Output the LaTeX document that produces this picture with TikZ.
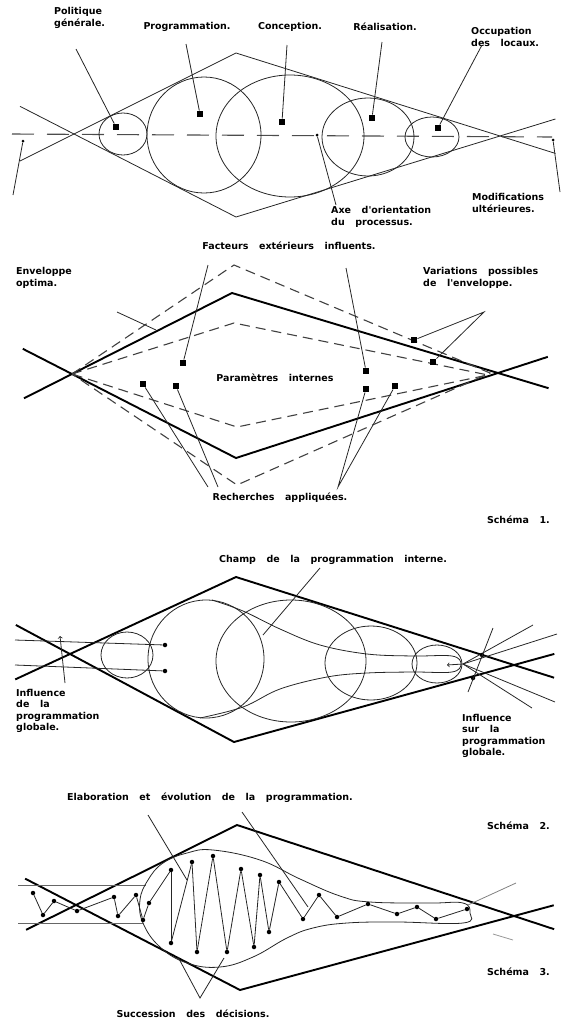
\documentclass[tikz,border=0pt]{standalone}
\usepackage{fontspec}
\newfontfamily\schemafont{DejaVu Sans}[WordSpace=3.2]
\usetikzlibrary{positioning,calc}

\tikzset{
  leader/.style={line width=0.8pt,black!85},
  heavy/.style={line width=1.9pt,black},
  envdash/.style={line width=1.1pt,black!75,dash pattern=on 10pt off 6pt},
  axisdash/.style={line width=1.1pt,black!70,dash pattern=on 22pt off 13pt},
  sqmark/.style={fill=black,inner sep=0pt,minimum size=6.5pt},
  decpt/.style={circle,fill=black,inner sep=0pt,minimum size=4.5pt},
  lbl/.style={font=\schemafont\bfseries\fontsize{9.5}{11.5}\selectfont,
    inner sep=0pt,align=left},
}

\begin{document}
\begin{tikzpicture}[x=1pt,y=-1pt]
\useasboundingbox (0,0) rectangle (564,1023);

% #1 = schema prefix, #2 = style, #3 = left overshoot, #4 = right overshoot
\newcommand{\crossenvelope}[4]{%
  \draw[#2] ($(#1b)!#3!(#1l)$) -- (#1l) -- (#1b) -- (#1r) -- ($(#1b)!#4!(#1r)$);
  \draw[#2] ($(#1t)!#3!(#1l)$) -- (#1l) -- (#1t) -- (#1r) -- ($(#1t)!#4!(#1r)$);
}

% ---------------- Schema 1, phases along the axis.
\coordinate (s1l) at (74,134);
\coordinate (s1t) at (236,53);
\coordinate (s1b) at (236,217);
\coordinate (s1r) at (500,136);
\crossenvelope{s1}{leader}{1.333}{1.21}

\draw[axisdash] (12,134) -- (552,137);

\draw[leader] (123,134) ellipse [x radius=24pt,y radius=21pt];
\draw[leader] (204,135) ellipse [x radius=57pt,y radius=58pt];
\draw[leader] (290,136) ellipse [x radius=74pt,y radius=61pt];
\draw[leader] (368,137) ellipse [x radius=46pt,y radius=39pt];
\draw[leader] (432,137) ellipse [x radius=27pt,y radius=20pt];

\node[sqmark] (pol) at (116,127) {};
\node[sqmark] (prg) at (200,114) {};
\node[sqmark] (con) at (282,122) {};
\node[sqmark] (rea) at (372,118) {};
\node[sqmark] (occ) at (438,128) {};
\node[decpt,minimum size=3pt] (axe) at (317,135) {};

\node[lbl,anchor=west] (pol-t) at (54,18) {Politique\\générale.};
\node[lbl] (prg-t) at (187,27) {Programmation.};
\node[lbl] (con-t) at (290,27) {Conception.};
\node[lbl] (rea-t) at (385,27) {Réalisation.};
\node[lbl,anchor=west] (occ-t) at (471,37) {Occupation\\des locaux.};
\node[lbl,anchor=west] (axe-t) at (331,217) {Axe d'orientation\\du processus.};
\node[lbl,anchor=west] (mod-t) at (472,203) {Modifications\\ultérieures.};

\coordinate (pol-e) at (76,49);
\coordinate (prg-e) at (186,44);
\coordinate (con-e) at (287,45);
\coordinate (rea-e) at (382,42);
\coordinate (occ-e) at (482,45);
\coordinate (axe-e) at (336,205);
\draw[leader] (pol-e) -- (pol);
\draw[leader] (prg-e) -- (prg);
\draw[leader] (con-e) -- (con);
\draw[leader] (rea-e) -- (rea);
\draw[leader] (occ-e) -- (occ);
\draw[leader] (axe) -- (axe-e);

% Ends of the axis.
\node[decpt,minimum size=3pt] (tl) at (23,141) {};
\node[decpt,minimum size=3pt] (tr) at (553,140) {};
\coordinate (tl-e) at (13,195);
\coordinate (tr-e) at (560,192);
\draw[leader] (tl) -- (tl-e);
\draw[leader] (tr) -- (tr-e);

% ---------------- Schema 1, optimal envelope.
\coordinate (s2l) at (72,374);
\coordinate (s2t) at (232,293);
\coordinate (s2b) at (236,458);
\coordinate (s2r) at (498,373);
\crossenvelope{s2}{heavy}{1.3}{1.19}

\draw[envdash] (s2l) -- (234,265) -- (490,373) -- (237,485) -- cycle;
\draw[envdash] (s2l) -- (234,323) -- (488,375) -- (237,427) -- cycle;

\node[sqmark] (fe1) at (183,363) {};
\node[sqmark] (fe2) at (366,371) {};
\node[sqmark] (ra1) at (143,384) {};
\node[sqmark] (ra2) at (176,386) {};
\node[sqmark] (ra3) at (366,389) {};
\node[sqmark] (ra4) at (395,386) {};
\node[sqmark] (va1) at (414,340) {};
\node[sqmark] (va2) at (433,362) {};

\node[lbl] (fe-t) at (289,246) {Facteurs extérieurs influents.};
\node[lbl,anchor=west] (en-t) at (16,278) {Enveloppe\\optima.};
\node[lbl,anchor=west] (va-t) at (423,278) {Variations possibles\\de l'enveloppe.};
\node[lbl] (pi-t) at (275,378) {Paramètres internes};
\node[lbl] (ra-t) at (280,498) {Recherches appliquées.};
\node[lbl,anchor=east] (sc1) at (550,520) {Schéma 1.};

\coordinate (fe-e1) at (208,265);
\coordinate (fe-e2) at (346,268);
\coordinate (en-s) at (117,312);
\coordinate (en-e) at (156,330);
\coordinate (va-e) at (484,312);
\coordinate (ra-l1) at (208,487);
\coordinate (ra-l2) at (218,487);
\coordinate (ra-r) at (338,487);
\draw[leader] (fe-e1) -- (fe1);
\draw[leader] (fe-e2) -- (fe2);
\draw[leader] (en-s) -- (en-e);
\draw[leader] (va1) -- (va-e) -- (va2);
\draw[leader] (ra1) -- (ra-l1);
\draw[leader] (ra2) -- (ra-l2);
\draw[leader] (ra3) -- (ra-r) -- (ra4);

% ---------------- Schema 2, field of internal programming.
\coordinate (s3l) at (70,654);
\coordinate (s3t) at (236,577);
\coordinate (s3b) at (234,742);
\coordinate (s3r) at (514,665);
\crossenvelope{s3}{heavy}{1.33}{1.144}

\draw[leader] (127,655) ellipse [x radius=26pt,y radius=23pt];
\draw[leader] (206,659) ellipse [x radius=58pt,y radius=59pt];
\draw[leader] (291,661) ellipse [x radius=75pt,y radius=61pt];
\draw[leader] (371,663) ellipse [x radius=46pt,y radius=37pt];
\draw[leader] (437,664) ellipse [x radius=25pt,y radius=19pt];

% Funnel of the internal programming.
\draw[leader] plot[smooth,tension=0.6] coordinates {(212,600) (243,611)
  (280,629) (320,645) (367,654) (413,656) (452,656) (461,664) (452,672)
  (413,672) (367,673) (327,677) (280,689) (243,707) (200,718)};

% Global programming, incoming.
\node[decpt] (ig1) at (165,645) {};
\node[decpt] (ig2) at (165,671) {};
\coordinate (ig1-s) at (15,640);
\coordinate (ig2-s) at (15,665);
\coordinate (ia-s) at (65,683);
\coordinate (ia-e) at (60,636);
\draw[leader] (ig1-s) -- (ig1);
\draw[leader] (ig2-s) -- (ig2);
\draw[leader,->] (ia-s) -- (ia-e);

% Global programming, outgoing.
\coordinate (fan) at (463,664);
\coordinate (fan-a) at (447,665);
\coordinate (f1) at (533,625);
\coordinate (f2) at (557,634);
\coordinate (f3) at (555,702);
\coordinate (f4) at (532,708);
\foreach \f in {f1,f2,f3,f4}
  \draw[leader] (fan) -- (\f);
\draw[leader,->] (fan) -- (fan-a);
\node[decpt] (gd1) at (482,655) {};
\node[decpt] (gd2) at (473,678) {};
\coordinate (gv-t) at (493,628);
\coordinate (gv-b) at (468,692);
\draw[leader] (gv-t) -- (gv-b);

\node[lbl] (ch-t) at (333,560) {Champ de la programmation interne.};
\node[lbl,anchor=west] (ig-t) at (16,711)
  {Influence\\de la\\programmation\\globale.};
\node[lbl,anchor=west] (og-t) at (462,736)
  {Influence\\sur la\\programmation\\globale.};
\coordinate (ch-e) at (320,568);
\coordinate (ch-p) at (263,635);
\draw[leader] (ch-e) -- (ch-p);

% ---------------- Schema 3, succession of decisions.
\node[lbl,anchor=east] (sc2) at (550,826) {Schéma 2.};
\node[lbl] (el-t) at (210,798) {Elaboration et évolution de la programmation.};

\coordinate (s4l) at (76,905);
\coordinate (s4t) at (237,825);
\coordinate (s4b) at (240,990);
\coordinate (s4r) at (514,916);
\crossenvelope{s4}{heavy}{1.31}{1.145}

\draw[leader,black!60] (18,885) -- (146,885);
\draw[leader,black!60] (18,923) -- (143,923);

\draw[leader] plot[smooth cycle,tension=0.7] coordinates {(213,850) (260,860)
  (300,879) (340,896) (370,902) (430,903) (463,903) (470,913) (463,923)
  (397,922) (347,923) (313,928) (287,938) (253,957) (220,967) (187,963)
  (160,947) (143,923) (140,900) (148,880) (163,863) (187,853)};

\foreach \p [count=\i] in {(33,893),(43,915),(54,901),(77,911),(114,897),
    (118,916),(136,895),(143,920),(149,903),(171,870),(171,943),(192,862),
    (197,952),(213,856),(227,952),(241,869),(254,947),(260,875),(269,932),
    (279,882),(303,919),(319,895),(337,917),(368,904),(397,914),(417,907),
    (436,919),(467,909)}
  \node[decpt] (d\i) at \p {};
\foreach \i [remember=\i as \j (initially 1)] in {2,...,28}
  \draw[leader] (d\j) -- (d\i);

\coordinate (rt1) at (468,905);
\coordinate (rt2) at (516,883);
\coordinate (rt3) at (493,934);
\coordinate (rt4) at (513,940);
\draw[leader,black!50] (rt1) -- (rt2);
\draw[leader,black!40] (rt3) -- (rt4);

\coordinate (el-e1) at (148,815);
\coordinate (el-p1) at (187,880);
\coordinate (el-e2) at (242,812);
\coordinate (el-p2) at (308,907);
\draw[leader] (el-e1) -- (el-p1);
\draw[leader] (el-e2) -- (el-p2);

\node[lbl,anchor=east] (sc3) at (550,972) {Schéma 3.};
\node[lbl] (su-t) at (193,1014) {Succession des décisions.};
\coordinate (su-e) at (200,998);
\coordinate (su-p1) at (178,957);
\coordinate (su-p2) at (224,958);
\draw[leader] (su-p1) -- (su-e) -- (su-p2);

\end{tikzpicture}
\end{document}
